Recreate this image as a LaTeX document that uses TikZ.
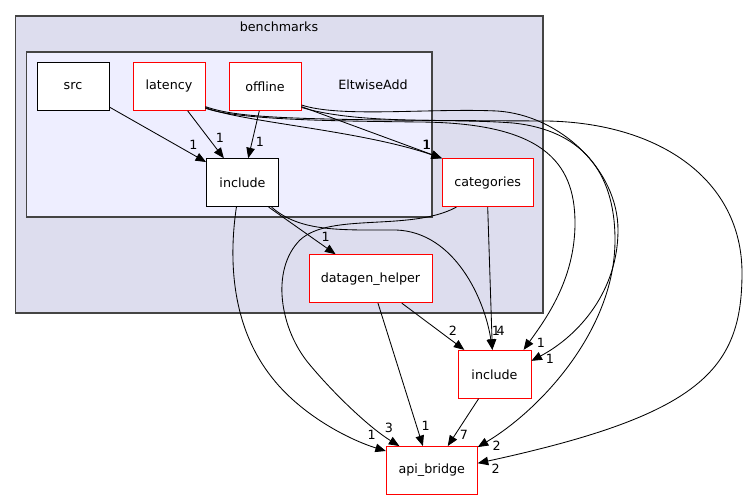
\documentclass[tikz,border=0pt]{standalone}
\usepackage{fontspec}
\setmainfont{DejaVu Sans}
\usetikzlibrary{arrows.meta}
\definecolor{outerfill}{HTML}{DDDDEE}
\definecolor{innerfill}{HTML}{EEEEFF}
\definecolor{clusterline}{HTML}{444444}

\begin{document}
\begin{tikzpicture}[x=1pt,y=-1pt,font=\fontsize{12.7}{15}\selectfont]
    \tikzset{dir/.style = {shape=rectangle,draw=black,fill=white,minimum width=72pt,minimum height=48pt,inner sep=0pt,line width=0.9pt}}
    \tikzset{dirred/.style = {dir,draw=red}}
    \tikzset{lbl/.style = {inner sep=0pt}}
    \tikzset{dep/.style = {-{Triangle[length=10.5pt,width=8.5pt]},line width=0.85pt}}
    \tikzset{cluster/.style = {draw=clusterline,line width=1.2pt}}

    \useasboundingbox (0,0) rectangle (747,500);

    % clusters
    \draw[cluster,fill=outerfill] (15.5,16) rectangle (543,313);
    \node (benchmarks) at (279,27) {benchmarks};
    \draw[cluster,fill=innerfill] (26.5,52) rectangle (432,217);
    \node (eltwiseadd) at (373,85) {EltwiseAdd};

    % vertices
    \node[dir] (src) at (73,86.4) {src};
    \node[dirred] (latency) at (169,86.4) {latency};
    \node[dirred] (offline) at (265,86.4) {offline};
    \node[dir] (incin) at (242.5,182.7) {include};
    \node[dirred,minimum width=90.7pt] (categories) at (487.7,182.7) {categories};
    \node[dirred,minimum width=123pt] (datagen) at (370.5,278.7) {datagen\_helper};
    \node[dirred,minimum width=73pt] (incout) at (494.5,374.3) {include};
    \node[dirred,minimum width=91pt] (apibridge) at (431.8,470.5) {api\_bridge};

    % edges
    \draw[dep] (src) to (incin);
    \draw[dep] (latency) to (incin);
    \draw[dep] (offline) to (incin);
    \draw[dep] (latency.-30) .. controls (240,122) and (360,130) .. (categories.north west);
    \draw[dep] (offline.-29) to (categories.north west);
    \draw[dep] (latency.-31) .. controls (240,120) and (330,121) .. (420,122) .. controls (540,123) and (575,160) .. (575,223) .. controls (575,280) and (545,320) .. (incout.40);
    \draw[dep] (latency.-29) .. controls (240,119) and (300,120) .. (547,121) .. controls (660,123) and (742,180) .. (742,273) .. controls (742,370) and (700,415) .. (apibridge.9);
    \draw[dep] (offline.-27) .. controls (340,118) and (430,108) .. (497,111) .. controls (560,115) and (618,170) .. (618,230) .. controls (618,290) and (580,335) .. (incout.20);
    \draw[dep] (offline.-30) .. controls (360,125) and (450,118) .. (513,123) .. controls (580,130) and (615,170) .. (615,240) .. controls (615,330) and (540,410) .. (apibridge.27);
    \draw[dep] (incin.-43) to (datagen.145);
    \draw[dep] (incin.-40) .. controls (300,232) and (340,230) .. (396,230) .. controls (455,232) and (485,300) .. (incout.95);
    \draw[dep] (incin.-104) .. controls (230,250) and (228,320) .. (270,375) .. controls (300,415) and (350,440) .. (apibridge.157);
    \draw[dep] (categories.south) to (incout.95);
    \draw[dep] (categories.-142) .. controls (410,232) and (330,212) .. (300,240) .. controls (270,270) and (280,330) .. (310,365) .. controls (335,395) and (370,428) .. (apibridge.143.5);
    \draw[dep] (datagen.-38) to (incout.141);
    \draw[dep] (datagen.-73) to (apibridge.110);
    \draw[dep] (incout) to (apibridge);

    % edge labels
    \node[lbl] (lsrc) at (193.3,145) {1};
    \node[lbl] (llat) at (220,138.3) {1};
    \node[lbl] (loff) at (260,141.7) {1};
    \node[lbl] (lcata) at (426.5,145) {1};
    \node[lbl] (lcatb) at (427.2,145) {1};
    \node[lbl] (ldat) at (325.7,236.7) {1};
    \node[lbl] (lincouta) at (453,330.7) {2};
    \node[lbl] (lincoutb) at (496,330.7) {1};
    \node[lbl] (lincoutc) at (500.7,330.7) {4};
    \node[lbl] (lincoutd) at (541,342.5) {1};
    \node[lbl] (lincoute) at (550,359.3) {1};
    \node[lbl] (lapia) at (371.7,435) {1};
    \node[lbl] (lapib) at (389,427.7) {3};
    \node[lbl] (lapic) at (425.7,425.7) {1};
    \node[lbl] (lapid) at (464,435) {7};
    \node[lbl] (lapie) at (496.7,445.7) {2};
    \node[lbl] (lapif) at (495.7,468.3) {2};
\end{tikzpicture}
\end{document}
